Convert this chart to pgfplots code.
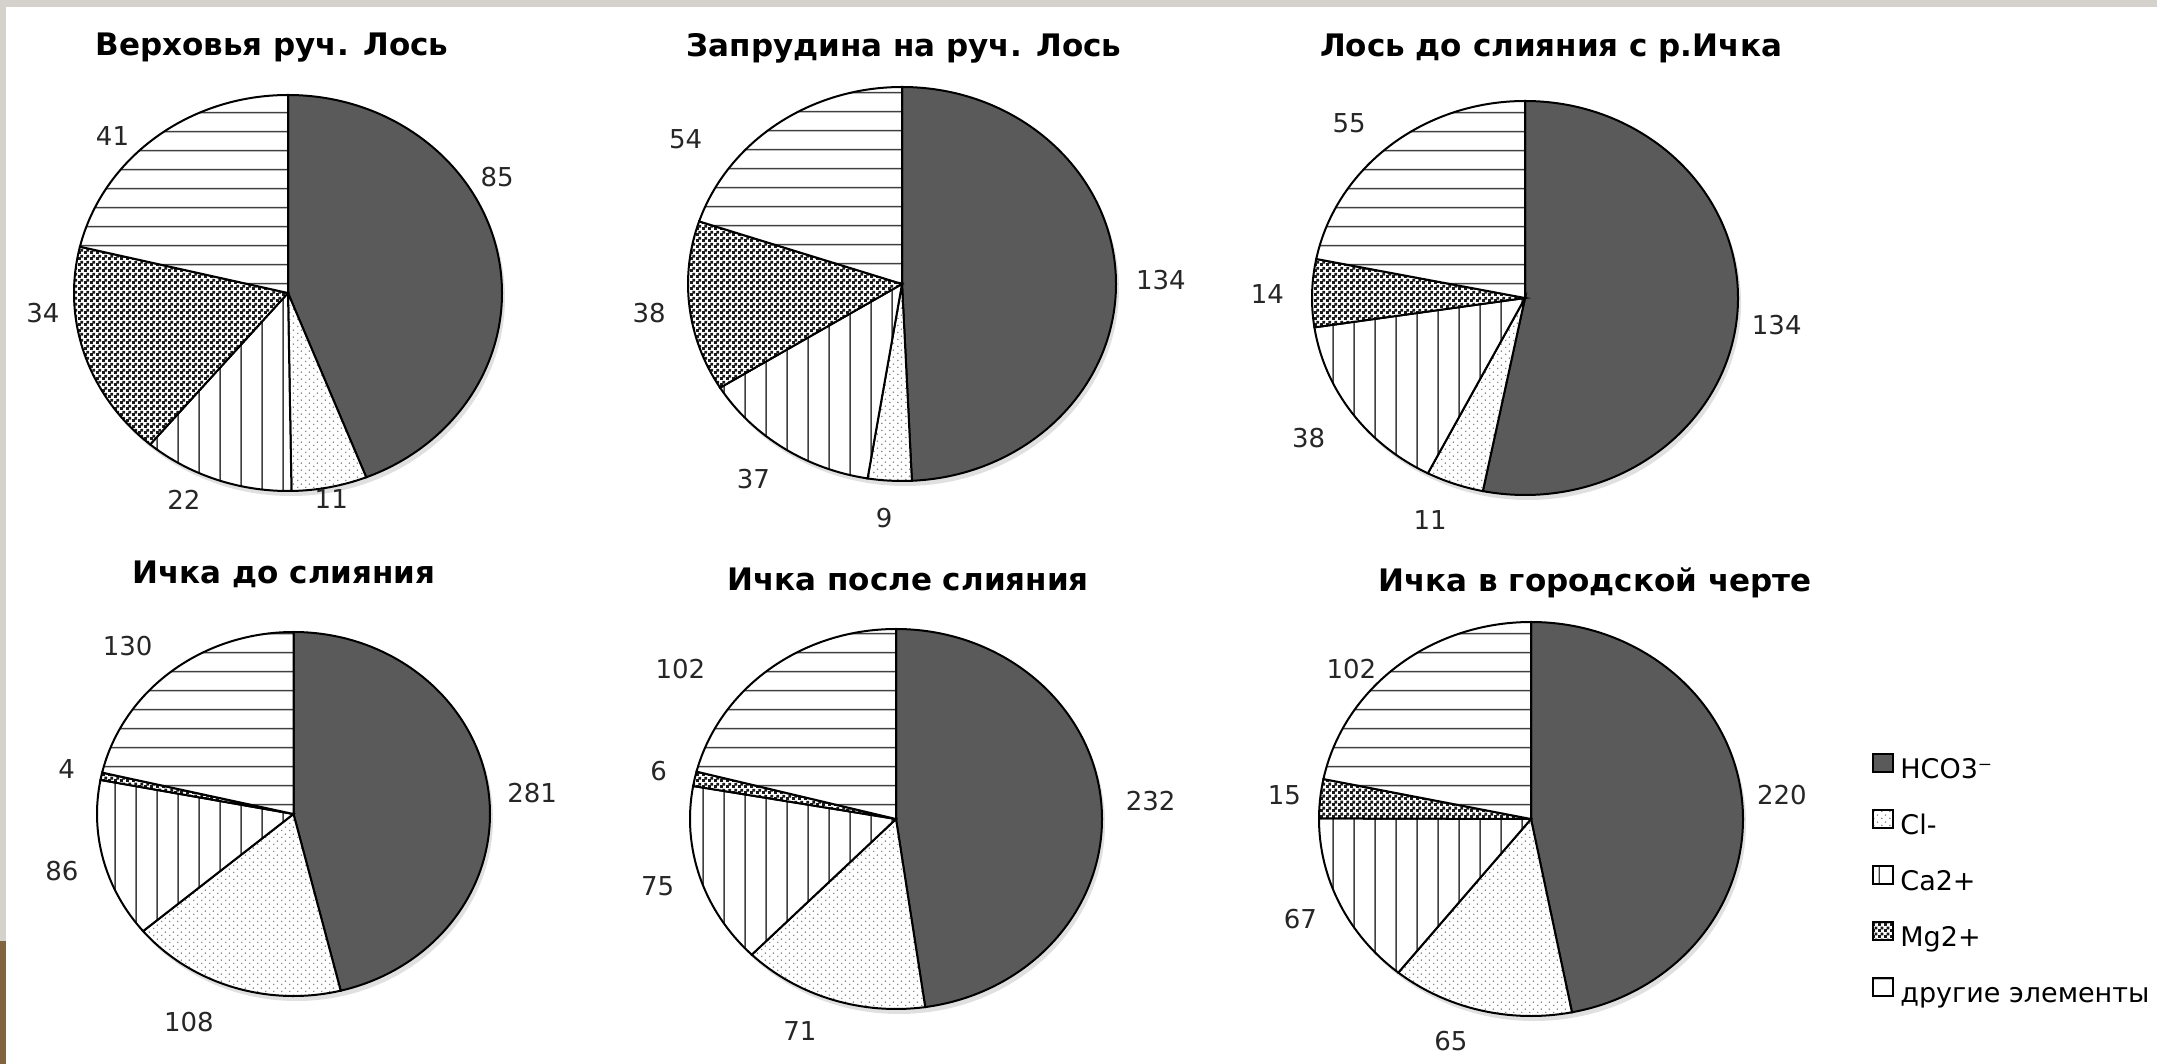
\documentclass[border=0pt]{standalone}
\usepackage{fontspec}
\setmainfont{DejaVu Sans}
\usepackage{pgfplots}
\usepackage{pgfplotstable}
\pgfplotsset{compat=1.18}
\usetikzlibrary{patterns.meta}

\definecolor{hco}{RGB}{90,90,90}
\definecolor{framegray}{RGB}{213,209,204}
\definecolor{wood}{RGB}{128,100,62}

% ion contents at the six sites, A..F = pies left to right, top row first
\pgfplotstableread{
ion  A    B    C    D    E    F
HCO3 85   134  134  281  232  220
Cl   11   9    11   108  71   65
Ca   22   37   38   86   75   67
Mg   34   38   14   4    6    15
Oth  41   54   55   130  102  102
}\ions

% value labels: angle (deg) and distance from centre (in radii)
\pgfplotstableread{
ion  Aa   Ar    Ba   Br    Ca    Cr    Da    Dr    Ea    Er    Fa    Fr
HCO3 31   1.14  1    1.21  -6.7  1.19  5.4   1.22  4.4   1.24  5.9   1.19
Cl   281  1.06  266  1.19  248.4 1.21  245   1.26  247.3 1.21  251.5 1.19
Ca   245  1.15  235  1.21  215   1.24  195   1.22  197   1.21  205   1.20
Mg   185  1.15  187  1.19  179   1.21  168   1.18  167.6 1.18  174   1.17
Oth  136  1.14  144  1.25  133   1.21  132.5 1.25  143   1.31  138   1.14
}\lblpos

\tikzdeclarepattern{name=vlines, type=uncolored,
  bottom left={(0pt,0pt)}, top right={(10.5pt,10pt)}, tile size={(10.5pt,10pt)},
  code={\draw[line width=0.75pt] (5.25pt,-1pt) -- (5.25pt,11pt);}}
\tikzdeclarepattern{name=hlines, type=uncolored,
  bottom left={(0pt,0pt)}, top right={(10pt,9.65pt)}, tile size={(10pt,9.65pt)},
  code={\draw[line width=0.75pt] (-1pt,4.8pt) -- (11pt,4.8pt);}}
\tikzdeclarepattern{name=sdots, type=uncolored,
  bottom left={(0pt,0pt)}, top right={(4pt,3.6pt)}, tile size={(4pt,3.6pt)},
  code={\fill (1pt,0.9pt) circle[radius=0.45pt]; \fill (3pt,2.7pt) circle[radius=0.45pt];}}
\tikzdeclarepattern{name=checker, type=uncolored,
  bottom left={(0pt,0pt)}, top right={(3pt,3pt)}, tile size={(3pt,3pt)},
  code={\fill (0pt,0pt) rectangle (1.6pt,1.6pt); \fill (1.4pt,1.4pt) rectangle (3pt,3pt);}}

\tikzset{
  st0/.style={draw=black, line width=1pt, fill=hco},
  st1/.style={draw=black, line width=1pt, preaction={fill=white}, pattern=sdots, pattern color=black!50},
  st2/.style={draw=black, line width=1pt, preaction={fill=white}, pattern=vlines, pattern color=black!75},
  st3/.style={draw=black, line width=1pt, preaction={fill=white}, pattern=checker, pattern color=black!90},
  st4/.style={draw=black, line width=1pt, preaction={fill=white}, pattern=hlines, pattern color=black!75},
  lbl/.style={font=\fontsize{13}{15}\selectfont, text=black!85, inner sep=0pt},
  ttl/.style={font=\fontsize{15.5}{18}\selectfont\bfseries, text=black, inner sep=0pt},
}

% #1 column, #2 cx, #3 cy, #4 rx, #5 ry (pixels of the reference)
\newcommand\pie[5]{%
  \pgfplotsextra{%
    \xdef\tsum{0}%
    \foreach \i in {0,...,4}{%
      \pgfplotstablegetelem{\i}{#1}\of\ions
      \pgfmathsetmacro\tmp{\tsum+\pgfplotsretval}\xdef\tsum{\tmp}}%
    \xdef\cum{0}%
    \fill[black, opacity=0.12] (axis cs:{#2+3},{#3+5}) ellipse[x radius=#4*0.5pt, y radius=#5*0.5pt];
    \foreach \i in {0,...,4}{%
      \pgfplotstablegetelem{\i}{#1}\of\ions \let\val\pgfplotsretval
      \pgfplotstablegetelem{\i}{#1a}\of\lblpos \let\labang\pgfplotsretval
      \pgfplotstablegetelem{\i}{#1r}\of\lblpos \let\labr\pgfplotsretval
      \pgfmathsetmacro\angA{90-360*(\cum/\tsum)}%
      \pgfmathsetmacro\angB{90-360*((\cum+\val)/\tsum)}%
      \pgfmathsetmacro\px{#2+#4*cos(\angA)}%
      \pgfmathsetmacro\py{#3-#5*sin(\angA)}%
      \pgfmathsetmacro\lx{#2+\labr*#4*cos(\labang)}%
      \pgfmathsetmacro\ly{#3-\labr*#5*sin(\labang)}%
      \draw[style/.expanded=st\i] (axis cs:#2,#3) -- (axis cs:\px,\py)
        arc[start angle=\angA, end angle=\angB, x radius=#4*0.5pt, y radius=#5*0.5pt] -- cycle;
      \node[lbl] at (axis cs:\lx,\ly) {\val};
      \pgfmathsetmacro\tmp{\cum+\val}\xdef\cum{\tmp}}%
  }}

\begin{document}
\begin{tikzpicture}
\begin{axis}[
  x=0.5pt, y=0.5pt, xmin=0, xmax=2157, ymin=0, ymax=1064, y dir=reverse,
  hide axis, clip=false,
  legend image code/.code={\draw[#1] (0pt,-0.5pt) rectangle (10pt,8.5pt);},
  legend style={at={(axis cs:1872,753)}, anchor=north west, draw=none, fill=none,
    font=\fontsize{13.5}{16}\selectfont, inner sep=0pt, row sep=12.5pt,
    nodes={inner sep=0pt, text height=10pt, text depth=3pt},
    /tikz/every odd column/.append style={column sep=3pt}},
  legend cell align=left,
]
\pgfplotsextra{%
  \fill[white] (axis cs:0,0) rectangle (axis cs:2157,1064);
  \fill[framegray] (axis cs:0,0) rectangle (axis cs:2157,7);
  \fill[framegray] (axis cs:0,0) rectangle (axis cs:6,941);
  \fill[wood] (axis cs:0,941) rectangle (axis cs:6,1064);
}
\addlegendimage{st0}\addlegendentry{HCO3⁻}
\addlegendimage{st1}\addlegendentry{Cl-}
\addlegendimage{st2}\addlegendentry{Ca2+}
\addlegendimage{st3}\addlegendentry{Mg2+}
\addlegendimage{st4}\addlegendentry{другие элементы}

\pie{A}{288}{293}{214}{198}
\pie{B}{902}{284}{214}{197}
\pie{C}{1525}{298}{213}{197}
\pie{D}{293.5}{814}{196.5}{182}
\pie{E}{896}{819}{206}{190}
\pie{F}{1531}{819}{212}{197}

\pgfplotsextra{%
  \node[ttl] at (axis cs:272,48) {Верховья руч. Лось};
  \node[ttl] at (axis cs:904,48) {Запрудина на руч. Лось};
  \node[ttl] at (axis cs:1551,48) {Лось до слияния с р.Ичка};
  \node[ttl] at (axis cs:284,574) {Ичка до слияния};
  \node[ttl] at (axis cs:908,579) {Ичка после слияния};
  \node[ttl] at (axis cs:1595,583) {Ичка в городской черте};
}
\end{axis}
\end{tikzpicture}
\end{document}
